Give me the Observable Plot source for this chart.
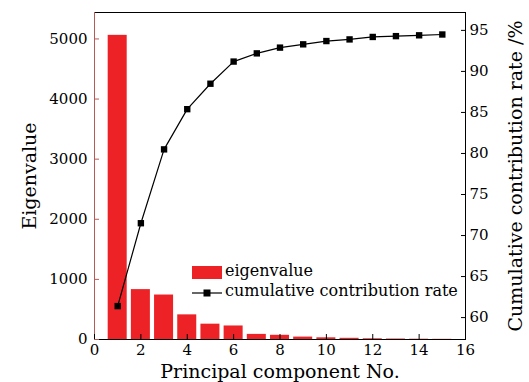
<!DOCTYPE html>
<html><head><meta charset="utf-8">
<script src="https://cdn.jsdelivr.net/npm/d3@7"></script>
<script src="https://cdn.jsdelivr.net/npm/@observablehq/plot@0.6"></script>
<style>
html,body{margin:0;padding:0;background:#fff;}
#wrap{position:relative;width:529px;height:382px;font-family:"DejaVu Serif",serif;color:#000;}
#wrap svg{display:block;}
.lg{position:absolute;font-size:16px;line-height:16px;white-space:nowrap;}
</style></head><body><div id="wrap"></div>
<script>
// Data
const pcs = [1,2,3,4,5,6,7,8,9,10,11,12,13,14,15];
const eigenvalues = [5060,830,740,410,255,225,85,70,40,28,20,12,8,5,3];
const cumulative = [61.4,71.5,80.5,85.4,88.5,91.2,92.2,92.9,93.3,93.7,93.9,94.2,94.3,94.4,94.5];
const xTicks = [0,2,4,6,8,10,12,14,16];
const leftTicks = [0,1000,2000,3000,4000,5000];
const rightTicks = [60,65,70,75,80,85,90,95];
const seriesNames = ["eigenvalue","cumulative contribution rate"];

const data = pcs.map((pc,i)=>({pc, eig:eigenvalues[i], cum:cumulative[i]}));

const yMax = 5440;
const rMin = 57.33, rMax = 97.18;
const toLeft = v => (v - rMin)/(rMax - rMin)*yMax;
const fromLeft = y => rMin + y/yMax*(rMax - rMin);
const red = "#ed2226";
const leftColor = "#b65a56";
const barHalf = 0.41;
const tickFont = 15;

const chart = Plot.plot({
  width:529, height:382,
  marginLeft:94, marginRight:64, marginTop:12, marginBottom:43,
  style:{fontFamily:"DejaVu Serif", fontSize:"15px", color:"#000", background:"transparent"},
  x:{domain:[0,16]},
  y:{domain:[0,yMax]},
  marks:[
    Plot.rectY(data,{x1:d=>d.pc-barHalf, x2:d=>d.pc+barHalf, y1:0, y2:"eig", fill:red}),
    Plot.line(data,{x:"pc", y:d=>toLeft(d.cum), stroke:"#000", strokeWidth:1.2}),
    Plot.dot(data,{x:"pc", y:d=>toLeft(d.cum), symbol:"square", r:3.6, fill:"#000", stroke:null}),
    Plot.frame({anchor:"top", stroke:"#000"}),
    Plot.frame({anchor:"right", stroke:"#000"}),
    Plot.frame({anchor:"bottom", stroke:"#000"}),
    Plot.frame({anchor:"left", stroke:leftColor}),
    Plot.axisX(xTicks,{anchor:"bottom", tickSize:-5, tickPadding:10, label:null, fontSize:tickFont, tickFormat:d3.format("d")}),
    Plot.axisY(leftTicks,{anchor:"left", tickSize:-5, tickPadding:12, label:null, stroke:leftColor, fontSize:tickFont, tickFormat:d3.format("d")}),
    Plot.axisY(rightTicks.map(toLeft),{anchor:"right", tickSize:-5, tickPadding:9, label:null, tickFormat:d=>Math.round(fromLeft(d)), fontSize:tickFont}),
    Plot.text(["Eigenvalue"],{frameAnchor:"left", dx:-65, rotate:-90, textAnchor:"middle", lineAnchor:"middle", fontSize:19, fill:"#000"}),
    Plot.text(["Cumulative contribution rate /%"],{frameAnchor:"right", dx:50, rotate:-90, textAnchor:"middle", lineAnchor:"middle", fontSize:19, fill:"#000"}),
    Plot.text(["Principal component No."],{frameAnchor:"bottom", dy:32, textAnchor:"middle", lineAnchor:"middle", fontSize:19, fill:"#000"})
  ]
});
const wrap = document.getElementById("wrap");
wrap.appendChild(chart);

// Legend overlay
const sw1 = document.createElement("div");
sw1.style.cssText = `position:absolute;left:192px;top:266px;width:30px;height:13px;background:${red};`;
wrap.appendChild(sw1);
const t1 = document.createElement("div");
t1.className = "lg"; t1.style.left = "225px"; t1.style.top = "263px"; t1.textContent = seriesNames[0];
wrap.appendChild(t1);
const sw2 = document.createElementNS("http://www.w3.org/2000/svg","svg");
sw2.setAttribute("width","32"); sw2.setAttribute("height","12");
sw2.style.cssText = "position:absolute;left:191px;top:287px;";
sw2.innerHTML = '<line x1="1" y1="6" x2="31" y2="6" stroke="#000" stroke-width="1.2"/><rect x="12.5" y="2.5" width="7" height="7" fill="#000"/>';
wrap.appendChild(sw2);
const t2 = document.createElement("div");
t2.className = "lg"; t2.style.left = "225px"; t2.style.top = "283px"; t2.textContent = seriesNames[1];
wrap.appendChild(t2);
</script>
</body></html>
